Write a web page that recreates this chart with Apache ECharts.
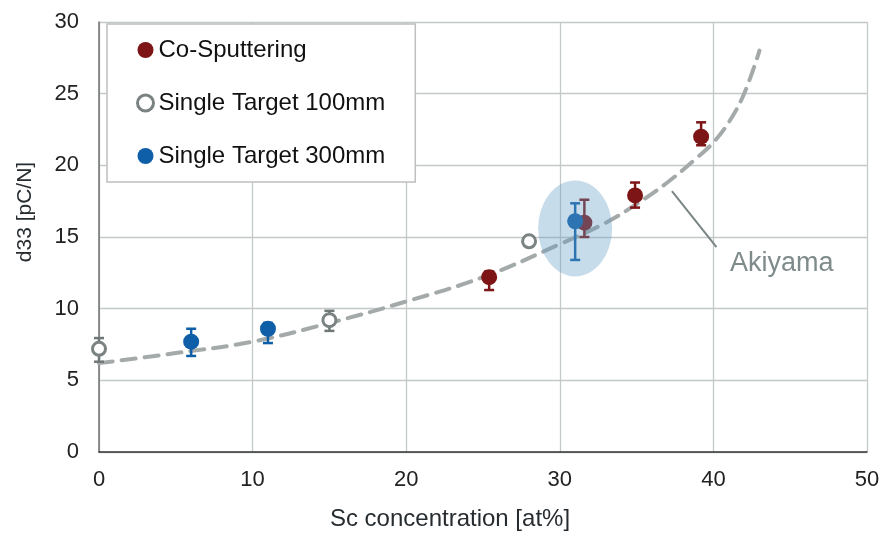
<!DOCTYPE html>
<html>
<head>
<meta charset="utf-8">
<script src="https://cdn.jsdelivr.net/npm/echarts@6/dist/echarts.min.js"></script>
<style>
    html, body { margin: 0; padding: 0; background: #fff; }
    #myChart { width: 881px; height: 534px; }
</style>
</head>
<body>
<div id="myChart"></div>
<script>
    // 数据
    const coSputX = [25.4, 31.6, 34.9, 39.2];
    const coSputY = [12.2, 16.0, 17.9, 22.0];
    const coSputLo = [11.3, 15.0, 17.05, 21.4];
    const coSputHi = [12.6, 17.6, 18.8, 23.0];

    const single100X = [0, 15, 28];
    const single100Y = [7.2, 9.2, 14.7];
    const single100Lo = [6.3, 8.45, null];
    const single100Hi = [7.95, 9.85, null];

    const single300X = [6, 11, 31];
    const single300Y = [7.7, 8.6, 16.1];
    const single300Lo = [6.7, 7.6, 13.4];
    const single300Hi = [8.6, 9.0, 17.35];

    // Akiyama curve
    const akiX = [0, 5, 10, 15, 20, 25, 30, 33, 35, 37, 39, 40, 41, 42, 43];
    const akiY = [6.2, 6.9, 7.7, 9.0, 10.5, 12.2, 14.5, 16.0, 17.3, 18.8, 20.6, 21.6, 23.0, 25.0, 28.0];

    // leader line for the "Akiyama" note, and the highlighted ellipse centre
    const leaderX = [37.3, 40.2];
    const leaderY = [18.2, 14.3];
    const ellipseCenter = [31.0, 15.6];

    const xTicks = [0, 10, 20, 30, 40, 50];
    const yTicks = [0, 5, 10, 15, 20, 25, 30];

    const RED = '#7d1416';
    const BLUE = '#0f5ea8';
    const GREY = '#7b8282';

    function zip(xs, ys) {
        return xs.map((x, i) => [x, ys[i]]);
    }
    function errData(xs, lo, hi) {
        const out = [];
        xs.forEach((x, i) => {
            if (lo[i] != null) out.push([x, lo[i], hi[i]]);
        });
        return out;
    }
    function errRender(color) {
        return function (params, api) {
            const x = api.value(0);
            const p1 = api.coord([x, api.value(1)]);
            const p2 = api.coord([x, api.value(2)]);
            const w = 5;
            const st = { stroke: color, lineWidth: 2.5 };
            return {
                type: 'group',
                children: [
                    { type: 'line', shape: { x1: p1[0], y1: p1[1], x2: p2[0], y2: p2[1] }, style: st },
                    { type: 'line', shape: { x1: p1[0] - w, y1: p1[1], x2: p1[0] + w, y2: p1[1] }, style: st },
                    { type: 'line', shape: { x1: p2[0] - w, y1: p2[1], x2: p2[0] + w, y2: p2[1] }, style: st }
                ]
            };
        };
    }

    const chart = echarts.init(document.getElementById('myChart'));
    const fontFam = '"Liberation Sans", Arial, sans-serif';

    const option = {
        animation: false,
        backgroundColor: '#fff',
        textStyle: { fontFamily: fontFam },
        grid: { left: 99, right: 14, top: 22, bottom: 82, containLabel: false, outerBoundsMode: 'none' },
        xAxis: {
            type: 'value',
            min: xTicks[0],
            max: xTicks[xTicks.length - 1],
            interval: 10,
            name: 'Sc concentration [at%]',
            nameLocation: 'middle',
            nameGap: 55,
            nameTextStyle: { color: '#262c30', fontSize: 24, fontFamily: fontFam, padding: [0, 66, 0, 0] },
            axisLine: { lineStyle: { color: '#333', width: 1.5 } },
            axisTick: { show: false },
            axisLabel: { color: '#222', fontSize: 22, margin: 17, fontFamily: fontFam },
            splitLine: { lineStyle: { color: '#c3c8c8', width: 1.3 } }
        },
        yAxis: {
            type: 'value',
            min: yTicks[0],
            max: yTicks[yTicks.length - 1],
            interval: 5,
            name: 'd33 [pC/N]',
            nameLocation: 'middle',
            nameGap: 63,
            nameTextStyle: { color: '#262c30', fontSize: 21, fontFamily: fontFam, padding: [0, 0, 0, 50] },
            axisLine: { show: true, lineStyle: { color: '#707070', width: 1.5 } },
            axisTick: { show: false },
            axisLabel: { color: '#222', fontSize: 22, margin: 20, fontFamily: fontFam },
            splitLine: { lineStyle: { color: '#c3c8c8', width: 1.3 } }
        },
        legend: {
            orient: 'vertical',
            left: 107,
            top: 24,
            padding: [14, 30, 14, 29],
            itemGap: 29,
            itemWidth: 16,
            itemHeight: 16,
            backgroundColor: '#fff',
            borderColor: '#bfbfbf',
            borderWidth: 1.5,
            borderRadius: 0,
            textStyle: { color: '#111', fontSize: 24, lineHeight: 24, fontFamily: fontFam },
            data: [
                { name: 'Co-Sputtering', icon: 'circle', itemStyle: { color: RED } },
                { name: 'Single Target 100mm', icon: 'circle', itemStyle: { color: '#fff', borderColor: GREY, borderWidth: 3 } },
                { name: 'Single Target 300mm', icon: 'circle', itemStyle: { color: BLUE } }
            ]
        },
        graphic: [{
            type: 'text',
            left: 730,
            top: 250,
            style: { text: 'Akiyama', fill: '#7f8a8a', font: '27px ' + fontFam }
        }],
        series: [
            {
                name: 'Akiyama',
                type: 'line',
                data: zip(akiX, akiY),
                smooth: 0.4,
                showSymbol: false,
                silent: true,
                z: 1,
                lineStyle: { color: '#a4aaaa', width: 4, type: [14, 9], cap: 'round' }
            },
            {
                name: 'leader',
                type: 'line',
                data: zip(leaderX, leaderY),
                showSymbol: false,
                silent: true,
                z: 1,
                lineStyle: { color: '#7a8585', width: 2 }
            },
            {
                name: 'err-co',
                type: 'custom',
                renderItem: errRender(RED),
                data: errData(coSputX, coSputLo, coSputHi),
                encode: { x: 0, y: [1, 2] },
                silent: true,
                z: 2
            },
            {
                name: 'err-100',
                type: 'custom',
                renderItem: errRender('#6f7777'),
                data: errData(single100X, single100Lo, single100Hi),
                encode: { x: 0, y: [1, 2] },
                silent: true,
                z: 2
            },
            {
                name: 'err-300',
                type: 'custom',
                renderItem: errRender(BLUE),
                data: errData(single300X, single300Lo, single300Hi),
                encode: { x: 0, y: [1, 2] },
                silent: true,
                z: 2
            },
            {
                name: 'Co-Sputtering',
                type: 'scatter',
                data: zip(coSputX, coSputY),
                symbol: 'circle',
                symbolSize: 16,
                z: 3,
                itemStyle: { color: RED, opacity: 1 }
            },
            {
                name: 'Single Target 100mm',
                type: 'scatter',
                data: zip(single100X, single100Y),
                symbol: 'circle',
                symbolSize: 13,
                z: 3,
                itemStyle: { color: '#fff', borderColor: GREY, borderWidth: 3, opacity: 1 }
            },
            {
                name: 'Single Target 300mm',
                type: 'scatter',
                data: zip(single300X, single300Y),
                symbol: 'circle',
                symbolSize: 16,
                z: 4,
                itemStyle: { color: BLUE, opacity: 1 }
            },
            {
                name: 'highlight',
                type: 'scatter',
                data: [ellipseCenter],
                symbol: 'circle',
                symbolSize: [74, 96],
                silent: true,
                z: 10,
                itemStyle: { color: 'rgba(100,158,196,0.45)' }
            }
        ]
    };
    chart.setOption(option);
</script>
</body>
</html>
